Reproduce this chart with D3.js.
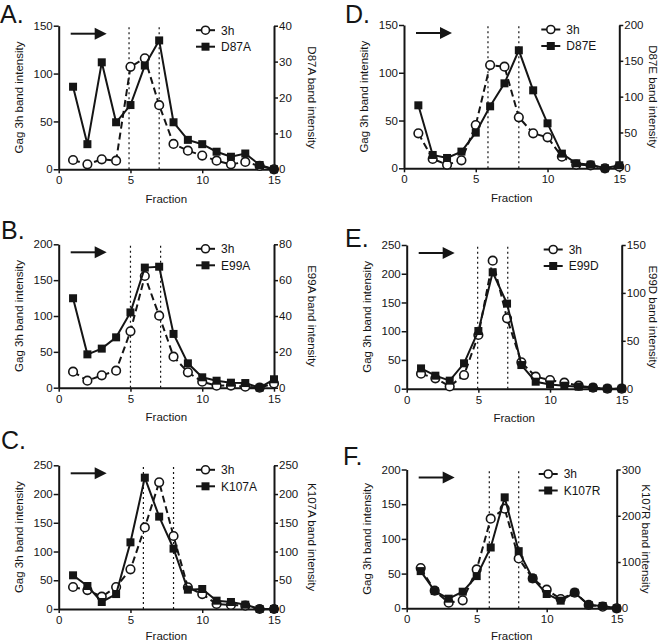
<!DOCTYPE html>
<html>
<head>
<meta charset="utf-8">
<script src="https://cdn.jsdelivr.net/npm/d3@7"></script>
<style>
  html, body { margin: 0; padding: 0; background: #fff; }
  svg { display: block; font-family: "Liberation Sans", Arial, Helvetica, sans-serif; }
</style>
</head>
<body>
<svg id="chart" width="660" height="644"></svg>
<script>
// ---------- DATA ----------
const fractions = [1, 2, 3, 4, 5, 6, 7, 8, 9, 10, 11, 12, 13, 14, 15];
const xTicks = [0, 5, 10, 15];

// Panel A: 3h vs D87A
const gag3hA = [9.7, 5.2, 10.4, 9, 107, 116, 67, 26.5, 19.5, 14.3, 9, 5.2, 7.7, 3.5, 0];
const d87a   = [23, 7, 29.8, 13.1, 17.9, 28.9, 35.9, 13.1, 8.2, 7, 4.9, 3.5, 4.4, 1.2, 0];
const leftTicksA = [0, 50, 100, 150];
const rightTicksA = [0, 10, 20, 30, 40];
const cutsA = [4.9, 7];

// Panel B: 3h vs E99A
const gag3hB = [22.3, 9.8, 17.2, 23.7, 78.6, 155.8, 100.5, 43.3, 21.4, 8.4, 2.8, 3, 1.4, 0, 6];
const e99a   = [49.9, 18.6, 21.8, 28.1, 42, 67, 67.5, 30, 13.6, 5.8, 3.9, 2.8, 2.6, 0, 4.7];
const leftTicksB = [0, 50, 100, 150, 200];
const rightTicksB = [0, 20, 40, 60, 80];
const cutsB = [5, 7.1];

// Panel C: 3h vs K107A
const gag3hC = [38.3, 33, 21.5, 38.3, 69, 142, 220.4, 127, 37.7, 26, 8.7, 7, 5.8, 0, 0];
const k107a  = [58.6, 40, 12.2, 26, 116, 228.5, 160.7, 105, 33.6, 34.8, 14.5, 12.2, 7.5, 0, 0];
const leftTicksC = [0, 50, 100, 150, 200, 250];
const rightTicksC = [0, 50, 100, 150, 200, 250];
const cutsC = [5.9, 8];

// Panel D: 3h vs D87E
const gag3hD = [36.6, 9.8, 3.8, 8.4, 45.3, 108.1, 106.4, 53.4, 36.6, 32.4, 12.2, 3.8, 3.1, 0, 1.7];
const d87e   = [87.9, 18.6, 14.4, 23.3, 49.8, 86.5, 118.6, 164.7, 108.8, 62.8, 20.5, 7, 5.1, 0, 4.2];
const leftTicksD = [0, 50, 100, 150];
const rightTicksD = [0, 50, 100, 150, 200];
const cutsD = [5.85, 8];

// Panel E: 3h vs E99D
const gag3hE = [26.1, 18, 4, 23.8, 93.4, 222.7, 122.4, 45.8, 20.9, 15.1, 10.4, 5.2, 1.7, 0, 0];
const e99d   = [21.2, 13.6, 8.4, 26.5, 60.2, 121.5, 88.8, 24.7, 7.3, 4.5, 3.1, 2.1, 1, 0, 0];
const leftTicksE = [0, 50, 100, 150, 200, 250];
const rightTicksE = [0, 50, 100, 150];
const cutsE = [4.95, 7.05];

// Panel F: 3h vs K107R
const gag3hF = [57.9, 25.4, 8.1, 11.5, 56, 129.2, 143.5, 71.8, 43, 26.8, 13.4, 22.5, 4.8, 2.4, 0];
const k107r  = [80.4, 37.3, 20.8, 35.9, 69.6, 131.4, 239.8, 123.5, 64.6, 30.9, 16.5, 33.7, 7.2, 5, 0];
const leftTicksF = [0, 50, 100, 150, 200];
const rightTicksF = [0, 100, 200, 300];
const cutsF = [5.9, 8];

const panelLetters = ["A.", "B.", "C.", "D.", "E.", "F."];
const mutantNames = ["D87A", "E99A", "K107A", "D87E", "E99D", "K107R"];

// ---------- LAYOUT ----------
const panels = [
  { letter: panelLetters[0], mut: mutantNames[0], gag: gag3hA, mutVals: d87a, lt: leftTicksA, rt: rightTicksA, cuts: cutsA,
    left: 58.7, right: 274, top: 25.7, bottom: 169.3, lx: 0, ly: 22.5, rOff: 37.5 },
  { letter: panelLetters[1], mut: mutantNames[1], gag: gag3hB, mutVals: e99a, lt: leftTicksB, rt: rightTicksB, cuts: cutsB,
    left: 58.7, right: 274, top: 244.3, bottom: 387.7, lx: 1, ly: 239, rOff: 37.5 },
  { letter: panelLetters[2], mut: mutantNames[2], gag: gag3hC, mutVals: k107a, lt: leftTicksC, rt: rightTicksC, cuts: cutsC,
    left: 58.7, right: 274, top: 465.3, bottom: 609, lx: 1, ly: 448.5, rOff: 37.5 },
  { letter: panelLetters[3], mut: mutantNames[3], gag: gag3hD, mutVals: d87e, lt: leftTicksD, rt: rightTicksD, cuts: cutsD,
    left: 404, right: 619.3, top: 25, bottom: 168.3, lx: 345, ly: 23, rOff: 34 },
  { letter: panelLetters[4], mut: mutantNames[4], gag: gag3hE, mutVals: e99d, lt: leftTicksE, rt: rightTicksE, cuts: cutsE,
    left: 406.7, right: 621.7, top: 245, bottom: 388.7, lx: 345, ly: 246.7, rOff: 31.5 },
  { letter: panelLetters[5], mut: mutantNames[5], gag: gag3hF, mutVals: k107r, lt: leftTicksF, rt: rightTicksF, cuts: cutsF,
    left: 406.7, right: 616.7, top: 469.5, bottom: 608.3, lx: 343, ly: 465, rOff: 29.5 }
];

const INK = "#151515";
const svg = d3.select("#chart");

panels.forEach(p => {
  const g = svg.append("g");
  const x = d3.scaleLinear().domain([0, 15]).range([p.left, p.right]);
  const yL = d3.scaleLinear().domain([0, d3.max(p.lt)]).range([p.bottom, p.top]);
  const yR = d3.scaleLinear().domain([0, d3.max(p.rt)]).range([p.bottom, p.top]);

  // panel letter
  g.append("text").attr("x", p.lx).attr("y", p.ly).attr("font-size", 25).attr("fill", INK).text(p.letter);

  // dotted cut lines
  p.cuts.forEach(c => {
    g.append("line").attr("x1", x(c)).attr("x2", x(c)).attr("y1", p.bottom).attr("y2", p.top)
      .attr("stroke", INK).attr("stroke-width", 1.2).attr("stroke-dasharray", "2,3");
  });

  // axes
  const styleAxis = sel => {
    sel.select(".domain").attr("stroke", INK).attr("stroke-width", 2);
    sel.selectAll(".tick line").attr("stroke", INK).attr("stroke-width", 1.5);
    sel.selectAll(".tick text").attr("fill", INK).attr("font-size", 11.5)
      .attr("font-family", "'Liberation Sans', Arial, sans-serif");
  };
  g.append("g").attr("transform", `translate(0,${p.bottom})`)
    .call(d3.axisBottom(x).tickValues(xTicks).tickFormat(d3.format("d")).tickSize(4).tickSizeOuter(0).tickPadding(3))
    .call(styleAxis);
  g.append("g").attr("transform", `translate(${p.left},0)`)
    .call(d3.axisLeft(yL).tickValues(p.lt).tickFormat(d3.format("d")).tickSize(5).tickSizeOuter(0).tickPadding(1))
    .call(styleAxis);
  g.append("g").attr("transform", `translate(${p.right},0)`)
    .call(d3.axisRight(yR).tickValues(p.rt).tickFormat(d3.format("d")).tickSize(4).tickSizeOuter(0).tickPadding(1))
    .call(styleAxis);

  // axis titles
  g.append("text").attr("x", (p.left + p.right) / 2).attr("y", Math.min(p.bottom + 33.5, 639.5))
    .attr("text-anchor", "middle").attr("font-size", 11.5).attr("fill", INK).text("Fraction");
  const midY = (p.top + p.bottom) / 2;
  g.append("text").attr("transform", `translate(${p.left - 36},${midY}) rotate(-90)`)
    .attr("text-anchor", "middle").attr("font-size", 11.5).attr("fill", INK).text("Gag 3h band intensity");
  g.append("text").attr("transform", `translate(${p.right + p.rOff - 4},${midY}) rotate(90)`)
    .attr("text-anchor", "middle").attr("font-size", 11.5).attr("fill", INK).text(p.mut + " band intensity");

  // arrow
  const ay = p.top + 8;
  g.append("line").attr("x1", p.left + 12).attr("x2", p.left + 38).attr("y1", ay).attr("y2", ay)
    .attr("stroke", INK).attr("stroke-width", 2);
  g.append("path").attr("d", `M${p.left + 36},${ay - 6}L${p.left + 48},${ay}L${p.left + 36},${ay + 6}Z`).attr("fill", INK);

  // series
  const gagPts = fractions.map((f, i) => [f, p.gag[i]]);
  const mutPts = fractions.map((f, i) => [f, p.mutVals[i]]);
  const lineL = d3.line().x(d => x(d[0])).y(d => yL(d[1]));
  const lineR = d3.line().x(d => x(d[0])).y(d => yR(d[1]));

  g.append("path").attr("d", lineL(gagPts)).attr("fill", "none").attr("stroke", INK)
    .attr("stroke-width", 2).attr("stroke-dasharray", "7,4");
  g.selectAll(null).data(gagPts).enter().append("circle")
    .attr("cx", d => x(d[0])).attr("cy", d => yL(d[1])).attr("r", 4.3)
    .attr("fill", "#fff").attr("stroke", INK).attr("stroke-width", 1.6);

  g.append("path").attr("d", lineR(mutPts)).attr("fill", "none").attr("stroke", INK).attr("stroke-width", 2);
  g.selectAll(null).data(mutPts).enter().append("rect")
    .attr("x", d => x(d[0]) - 4).attr("y", d => yR(d[1]) - 4).attr("width", 8).attr("height", 8)
    .attr("fill", INK);

  // legend
  const lx0 = p.right - 78, ly1 = p.top + 4.5, ly2 = p.top + 21;
  g.append("line").attr("x1", lx0).attr("x2", lx0 + 19).attr("y1", ly1).attr("y2", ly1)
    .attr("stroke", INK).attr("stroke-width", 2);
  g.append("circle").attr("cx", lx0 + 9.5).attr("cy", ly1).attr("r", 4)
    .attr("fill", "#fff").attr("stroke", INK).attr("stroke-width", 1.6);
  g.append("text").attr("x", lx0 + 25).attr("y", ly1 + 4.3).attr("font-size", 12).attr("fill", INK).text("3h");
  g.append("line").attr("x1", lx0).attr("x2", lx0 + 19).attr("y1", ly2).attr("y2", ly2)
    .attr("stroke", INK).attr("stroke-width", 2);
  g.append("rect").attr("x", lx0 + 5.5).attr("y", ly2 - 4).attr("width", 8).attr("height", 8).attr("fill", INK);
  g.append("text").attr("x", lx0 + 25).attr("y", ly2 + 4.3).attr("font-size", 12).attr("fill", INK).text(p.mut);
});
</script>
</body>
</html>
